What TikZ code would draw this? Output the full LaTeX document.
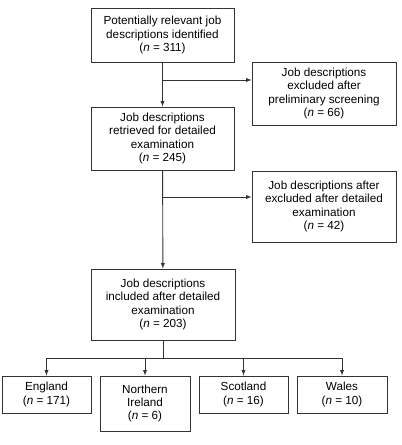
\documentclass[tikz,border=0pt]{standalone}
\usepackage{fontspec}
\setmainfont{Liberation Sans}
\usetikzlibrary{arrows,positioning,calc}

\begin{document}
\begin{tikzpicture}[
    x=1pt, y=-1pt,
    box/.style={draw=black!80, line width=0.9pt, rectangle, align=center, inner sep=1pt, font=\fontsize{11.7}{13.4}\selectfont},
    edge/.style={-latex, line width=0.9pt, draw=black!80},
]
\useasboundingbox (0,0) rectangle (402,445);

% Main flow
\node[box, minimum width=143, minimum height=54] (ident) at (162.5, 35) {Potentially relevant job\\descriptions identified\\(\textit{n} = 311)};
\node[box, minimum width=143, minimum height=63] (retr) at (162.5, 138.5) {Job descriptions\\retrieved for detailed\\examination\\(\textit{n} = 245)};
\node[box, minimum width=144, minimum height=71] (incl) at (163, 304.5) {Job descriptions\\included after detailed\\examination\\(\textit{n} = 203)};

% Exclusions
\node[box, minimum width=144, minimum height=63] (excl1) at (324, 93.5) {Job descriptions\\excluded after\\preliminary screening\\(\textit{n} = 66)};
\node[box, minimum width=144, minimum height=71] (excl2) at (324, 206.5) {Job descriptions after\\excluded after detailed\\examination\\(\textit{n} = 42)};

% Countries
\node[box, minimum width=89, minimum height=37] (eng) at (46.5, 394.5) {England\\(\textit{n} = 171)};
\node[box, minimum width=90, minimum height=55] (nire) at (145, 403.5) {Northern\\Ireland\\(\textit{n} = 6)};
\node[box, minimum width=89, minimum height=37] (scot) at (243.5, 394.5) {Scotland\\(\textit{n} = 16)};
\node[box, minimum width=90, minimum height=37] (wales) at (342, 394.5) {Wales\\(\textit{n} = 10)};

\coordinate (split1) at (163, 80);
\coordinate (split2) at (163, 197);
\coordinate (bus) at (163, 358);

\draw[edge] (ident) -- (retr);
\draw[edge] (split1) -- (split1 -| excl1.west);
\draw[edge] (retr) -- (incl);
\draw[edge] (split2) -- (split2 -| excl2.west);

\draw[line width=0.9pt, draw=black!80] (incl) -- (bus);
\foreach \c in {eng,nire,scot,wales}
  \draw[edge] (bus) -| (\c);

\end{tikzpicture}
\end{document}
